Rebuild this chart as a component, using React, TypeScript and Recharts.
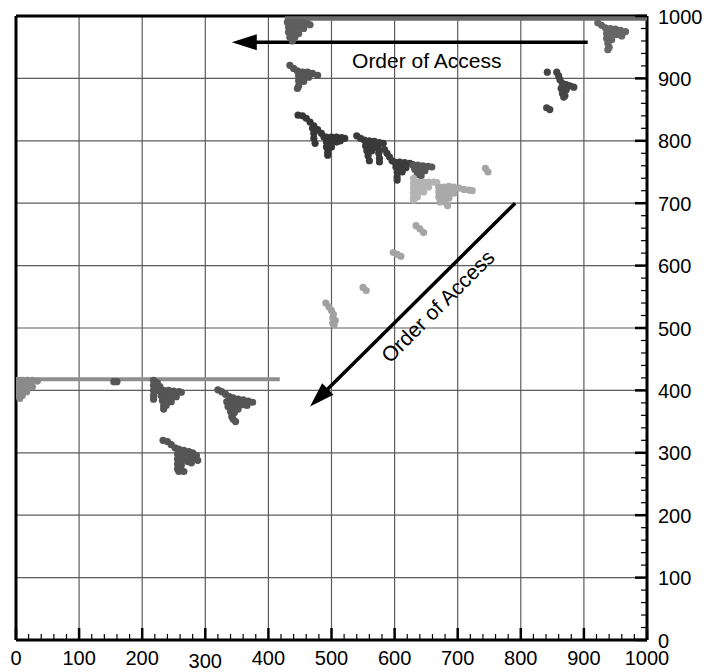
import React from "react";
import { ScatterChart, Scatter, XAxis, YAxis, CartesianGrid, ReferenceLine } from "recharts";

type Pt = [number, number];

// axis ticks
const majorTicks = [0, 100, 200, 300, 400, 500, 600, 700, 800, 900, 1000];
const minorTicks = [
  20, 40, 60, 80, 120, 140, 160, 180, 220, 240, 260, 280, 320, 340, 360, 380,
  420, 440, 460, 480, 520, 540, 560, 580, 620, 640, 660, 680, 720, 740, 760, 780,
  820, 840, 860, 880, 920, 940, 960, 980,
];
const axisTicks = [...majorTicks, ...minorTicks].sort((a, b) => a - b);

// long runs of accesses (drawn as a thick band between the ends)
const topBand: Pt[] = [[426, 996], [1000, 996]];
const leftBand: Pt[] = [[0, 418], [418, 418]];

// access clusters
const topWedge: Pt[] = [
  [430, 990], [438, 990], [446, 990], [454, 990], [462, 988], [466, 986],
  [432, 982], [440, 982], [448, 982], [456, 980], [432, 974], [440, 974],
  [448, 972], [434, 966], [442, 966], [438, 960],
];
const wedge900: Pt[] = [
  [434, 921], [440, 916], [446, 912], [454, 910], [462, 910], [470, 908],
  [478, 905], [448, 904], [456, 903], [464, 902], [448, 896], [456, 895],
  [448, 888], [446, 884],
];
const dark820: Pt[] = [
  [447, 841], [454, 840], [460, 836], [466, 830], [472, 824], [478, 818],
  [484, 812], [488, 806], [470, 820], [472, 812], [472, 804], [474, 796],
  [492, 806], [500, 806], [508, 806], [516, 805], [521, 804], [492, 798],
  [500, 798], [508, 798], [514, 800], [492, 790], [500, 790], [494, 782],
  [494, 777],
];
const dark790: Pt[] = [
  [540, 808], [546, 804], [552, 801], [560, 800], [568, 799], [576, 797],
  [582, 796], [554, 792], [562, 792], [570, 790], [556, 784], [564, 784],
  [558, 776], [560, 768], [574, 788], [575, 780], [576, 772], [576, 766],
];
const dark760: Pt[] = [
  [584, 786], [588, 780], [592, 774], [596, 768], [600, 766], [608, 766],
  [616, 765], [624, 764], [629, 762], [602, 758], [610, 758], [618, 757],
  [604, 750], [612, 750], [604, 742], [604, 737],
];
const mid755: Pt[] = [
  [629, 761], [637, 761], [645, 760], [653, 759], [659, 758], [632, 754],
  [640, 753], [648, 752], [636, 746], [642, 744],
];
const light730: Pt[] = [
  [630, 740], [630, 732], [638, 734], [646, 734], [654, 734], [662, 734],
  [667, 733], [630, 724], [638, 726], [646, 726], [654, 726], [630, 716],
  [638, 718], [646, 718], [630, 708], [636, 710], [630, 705],
];
const light720: Pt[] = [
  [670, 726], [678, 726], [686, 727], [694, 726], [702, 724], [710, 722],
  [718, 721], [723, 720], [670, 718], [678, 718], [686, 718], [694, 716],
  [670, 710], [678, 710], [686, 708], [672, 702], [680, 702], [684, 696],
];
const lightSpecks: Pt[] = [
  [744, 756], [748, 750], [634, 664], [640, 659], [646, 653],
  [598, 621], [604, 618], [610, 615], [550, 565], [555, 560],
];
const light520: Pt[] = [
  [491, 540], [496, 534], [500, 528], [503, 522], [502, 516], [506, 512],
  [502, 508], [504, 505],
];
const wedge970: Pt[] = [
  [922, 989], [928, 985], [934, 981], [942, 980], [950, 979], [958, 977],
  [966, 975], [936, 972], [944, 972], [952, 970], [960, 968], [936, 964],
  [944, 962], [938, 956], [940, 950], [938, 946],
];
const dark890: Pt[] = [
  [857, 910], [860, 904], [862, 898], [866, 892], [872, 890], [878, 888],
  [884, 886], [864, 884], [872, 882], [866, 876], [870, 872], [868, 870],
  [842, 910], [841, 853], [846, 850],
];
const edge400: Pt[] = [
  [2, 416], [10, 416], [18, 416], [26, 416], [34, 415], [2, 408], [10, 408],
  [18, 408], [26, 406], [3, 400], [10, 400], [17, 398], [4, 392], [10, 392],
  [6, 387],
];
const wedge390: Pt[] = [
  [218, 416], [218, 408], [218, 400], [218, 392], [218, 386], [224, 412],
  [228, 406], [226, 400], [234, 400], [242, 400], [250, 399], [258, 398],
  [262, 397], [230, 392], [238, 392], [246, 391], [254, 390], [232, 384],
  [240, 384], [246, 382], [234, 376], [238, 376], [234, 370],
  [155, 414], [160, 414],
];
const wedge375: Pt[] = [
  [320, 401], [326, 398], [332, 394], [338, 390], [344, 388], [352, 386],
  [360, 385], [368, 383], [375, 381], [334, 382], [342, 380], [350, 378],
  [358, 377], [366, 376], [336, 374], [344, 372], [352, 370], [340, 366],
  [346, 364], [342, 358], [344, 354], [348, 350],
];
const wedge300: Pt[] = [
  [233, 320], [240, 318], [246, 313], [252, 308], [258, 306], [266, 304],
  [274, 302], [280, 300], [256, 298], [264, 296], [272, 294], [280, 292],
  [286, 296], [288, 288], [256, 290], [264, 288], [272, 286], [278, 284],
  [256, 282], [262, 280], [256, 274], [262, 272], [266, 270], [258, 270],
];

const clusters: { name: string; pts: Pt[]; color: string }[] = [
  { name: "topWedge", pts: topWedge, color: "#5e5e5e" },
  { name: "wedge900", pts: wedge900, color: "#555555" },
  { name: "dark820", pts: dark820, color: "#363636" },
  { name: "dark790", pts: dark790, color: "#3a3a3a" },
  { name: "dark760", pts: dark760, color: "#3c3c3c" },
  { name: "mid755", pts: mid755, color: "#575757" },
  { name: "light730", pts: light730, color: "#b4b4b4" },
  { name: "light720", pts: light720, color: "#a9a9a9" },
  { name: "lightSpecks", pts: lightSpecks, color: "#a4a4a4" },
  { name: "light520", pts: light520, color: "#a0a0a0" },
  { name: "wedge970", pts: wedge970, color: "#666666" },
  { name: "dark890", pts: dark890, color: "#454545" },
  { name: "edge400", pts: edge400, color: "#8a8a8a" },
  { name: "wedge390", pts: wedge390, color: "#555555" },
  { name: "wedge375", pts: wedge375, color: "#555555" },
  { name: "wedge300", pts: wedge300, color: "#555555" },
];

const arrows = [
  { label: "Order of Access", from: { x: 906, y: 958 }, to: { x: 342, y: 958 } },
  { label: "Order of Access", from: { x: 791, y: 700 }, to: { x: 466, y: 374 } },
];

const FONT = "'Liberation Sans', Arial, Helvetica, sans-serif";
const toObjs = (pts: Pt[]) => pts.map(([x, y]) => ({ x, y }));

const XTick = (props: any) => {
  const { x, y, payload } = props;
  const v = payload.value;
  const major = v % 100 === 0;
  return (
    <g>
      <line x1={x} x2={x} y1={y} y2={y - (major ? 12 : 6)} stroke="#000" strokeWidth={major ? 2.5 : 1.2} />
      {major && (
        <text x={x} y={y + 25 + (v === 300 ? 3 : 0)} textAnchor="middle" fontSize={20} fontFamily={FONT} fill="#000">
          {v}
        </text>
      )}
    </g>
  );
};

const YTick = (props: any) => {
  const { x, y, payload } = props;
  const v = payload.value;
  const major = v % 100 === 0;
  return (
    <g>
      <line x1={x} x2={x - (major ? 12 : 6)} y1={y} y2={y} stroke="#000" strokeWidth={major ? 2.5 : 1.2} />
      {major && (
        <text x={x + 11} y={y + 7.5} textAnchor="start" fontSize={20} fontFamily={FONT} fill="#000">
          {v}
        </text>
      )}
    </g>
  );
};

const arrowShape = (label: string) => (p: any) => {
  const { x1, y1, x2, y2 } = p;
  const dx = x1 - x2;
  const dy = y1 - y2;
  const len = Math.hypot(dx, dy) || 1;
  const rx = dx / len;
  const ry = dy / len;
  const nx = -ry;
  const ny = rx;
  const L = 25;
  const W = 8;
  const bx = x2 + rx * L;
  const by = y2 + ry * L;
  const head = `${x2},${y2} ${bx + nx * W},${by + ny * W} ${bx - nx * W},${by - ny * W}`;
  const mx = (x1 + x2) / 2 + rx * 17 + nx * 26;
  const my = (y1 + y2) / 2 + ry * 17 + ny * 26;
  const ang = (Math.atan2(ry, rx) * 180) / Math.PI;
  return (
    <g>
      <line x1={x1} y1={y1} x2={bx + rx * -4} y2={by + ry * -4} stroke="#000" strokeWidth={3.5} />
      <polygon points={head} fill="#000" />
      <text x={mx} y={my} transform={`rotate(${ang} ${mx} ${my})`} textAnchor="middle" fontSize={21} fontFamily={FONT} fill="#000">
        {label}
      </text>
    </g>
  );
};

const dot = (color: string) => (p: any) => <circle cx={p.cx} cy={p.cy} r={3.6} fill={color} />;
const noDot = () => <g />;

export default function App() {
  return (
    <div style={{ position: "absolute", left: 0, top: 0, background: "#fff" }}>
      <ScatterChart width={709} height={672} margin={{ top: 16, right: 0, bottom: 0, left: 16 }}>
        <CartesianGrid stroke="#5c5c5c" strokeWidth={1.2} verticalValues={majorTicks} horizontalValues={majorTicks} />
        <XAxis
          type="number"
          dataKey="x"
          domain={[0, 1000]}
          ticks={axisTicks}
          interval={0}
          height={32}
          allowDataOverflow
          axisLine={{ stroke: "#000", strokeWidth: 3 }}
          tickLine={false}
          tickSize={0}
          tickMargin={0}
          tick={<XTick />}
        />
        <YAxis
          type="number"
          dataKey="y"
          orientation="right"
          domain={[0, 1000]}
          ticks={axisTicks}
          interval={0}
          width={62}
          allowDataOverflow
          axisLine={{ stroke: "#000", strokeWidth: 3 }}
          tickLine={false}
          tickSize={0}
          tickMargin={0}
          tick={<YTick />}
        />
        <ReferenceLine x={0} stroke="#000" strokeWidth={3} />
        <ReferenceLine y={1000} stroke="#000" strokeWidth={3} />
        <Scatter name="topBand" data={toObjs(topBand)} line={{ stroke: "#6b6b6b", strokeWidth: 4.5 }} shape={noDot} isAnimationActive={false} />
        <Scatter name="leftBand" data={toObjs(leftBand)} line={{ stroke: "#8e8e8e", strokeWidth: 4 }} shape={noDot} isAnimationActive={false} />
        {clusters.map((c) => (
          <Scatter key={c.name} name={c.name} data={toObjs(c.pts)} shape={dot(c.color)} isAnimationActive={false} />
        ))}
        {arrows.map((a, i) => (
          <ReferenceLine key={i} segment={[a.from, a.to]} shape={arrowShape(a.label)} />
        ))}
      </ScatterChart>
    </div>
  );
}
